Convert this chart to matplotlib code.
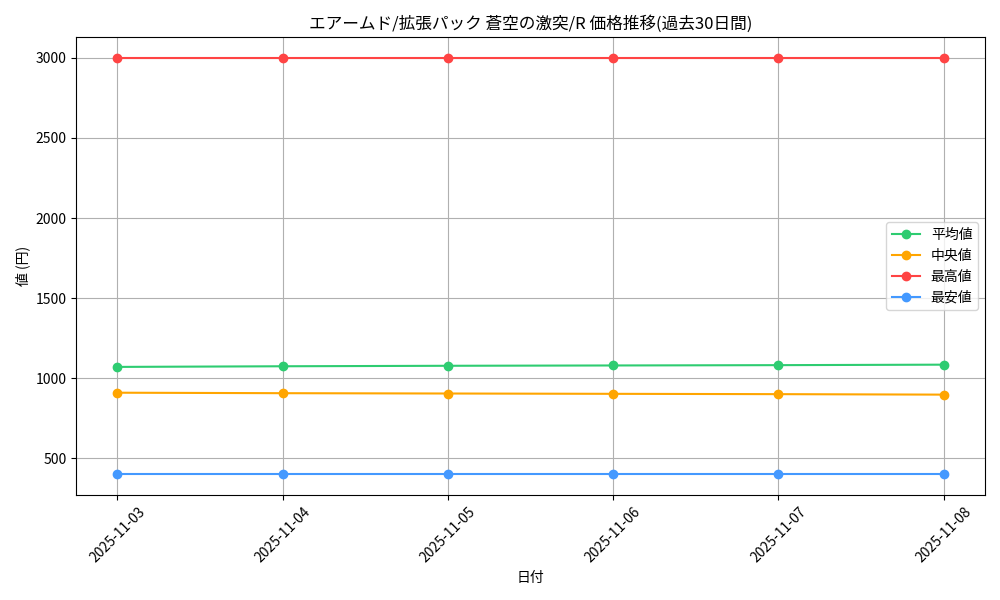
import matplotlib
matplotlib.use('Agg')
import matplotlib.pyplot as plt

plt.rcParams['font.family'] = ['Noto Sans CJK JP', 'DejaVu Sans']

dates = ['2025-11-03', '2025-11-04', '2025-11-05', '2025-11-06', '2025-11-07', '2025-11-08']
avg = [1071, 1075, 1078, 1080, 1082, 1085]
median = [910, 907, 905, 903, 901, 898]
high = [3000, 3000, 3000, 3000, 3000, 3000]
low = [400, 400, 400, 400, 400, 400]

fig, ax = plt.subplots(figsize=(10, 6), dpi=100)
ax.plot(dates, avg, marker='o', color='#2ecc71', label='平均値')
ax.plot(dates, median, marker='o', color='#ffa500', label='中央値')
ax.plot(dates, high, marker='o', color='#ff4444', label='最高値')
ax.plot(dates, low, marker='o', color='#4499ff', label='最安値')

ax.set_title('エアームド/拡張パック 蒼空の激突/R 価格推移(過去30日間)')
ax.set_xlabel('日付')
ax.set_ylabel('値 (円)')
ax.grid(True)
ax.legend(loc='center right')
plt.xticks(rotation=45)
plt.tight_layout()
plt.savefig('out.png')
